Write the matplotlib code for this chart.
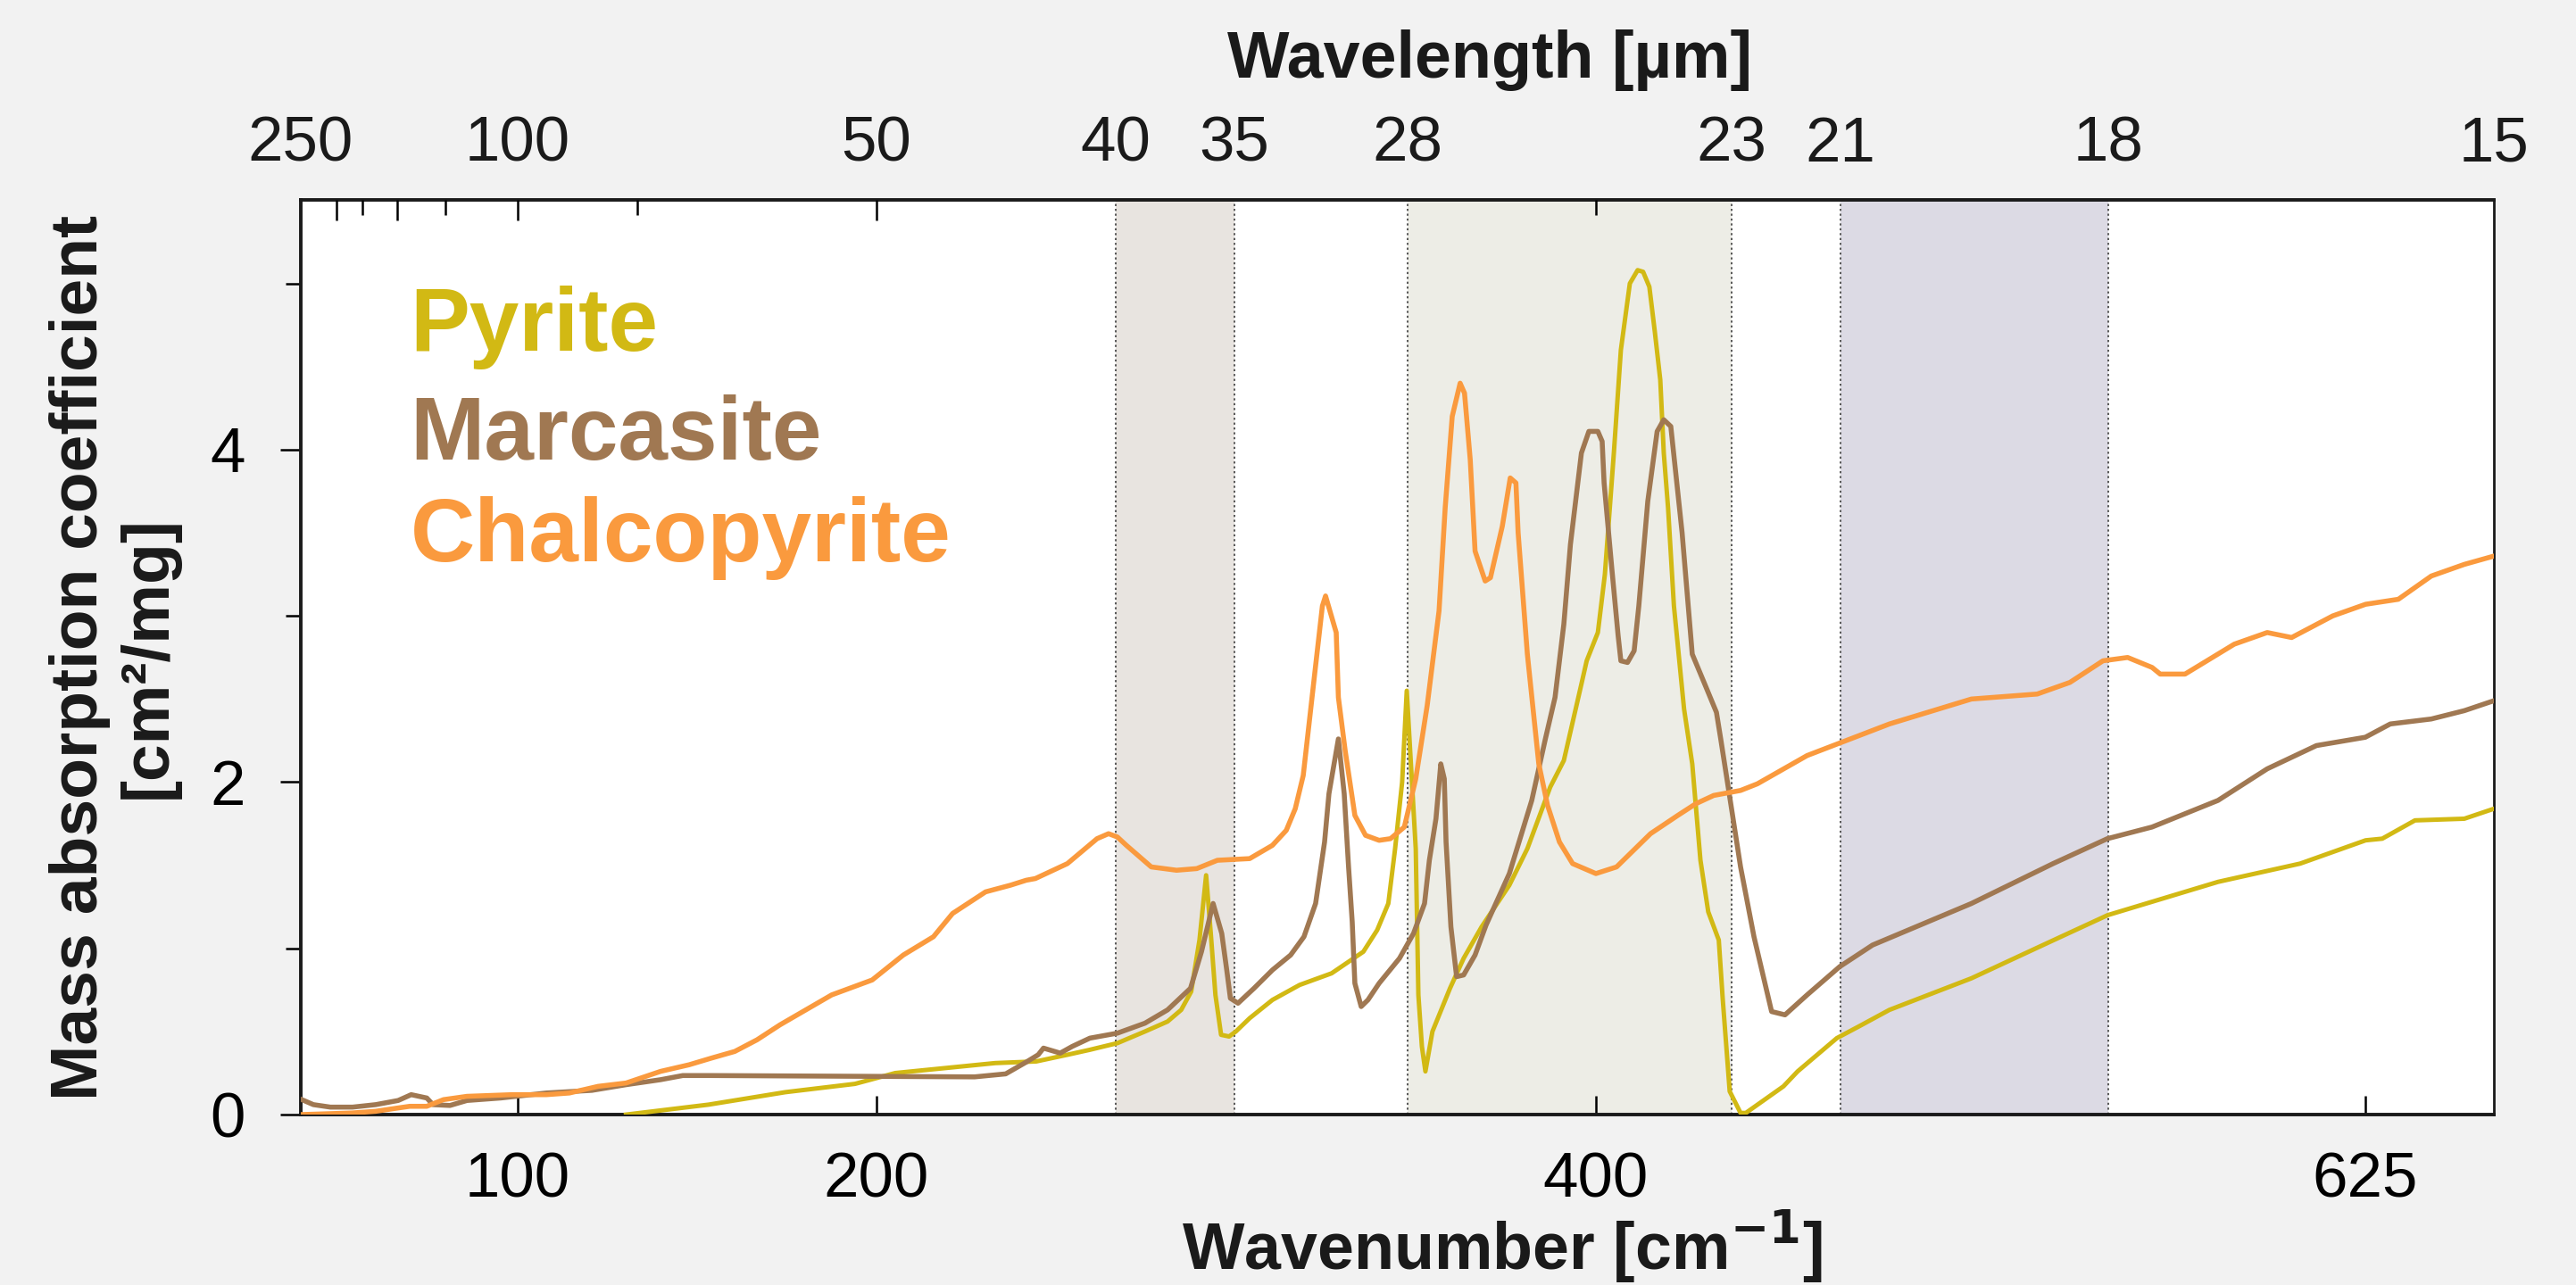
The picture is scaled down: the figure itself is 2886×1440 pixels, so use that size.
import numpy as np
import matplotlib
matplotlib.use("Agg")
import matplotlib.pyplot as plt

plt.rcParams['font.family'] = ['Liberation Sans', 'DejaVu Sans']

# wavenumber [cm-1] / mass absorption coefficient [cm2/mg]
pyrite_nu = [130.2, 153.2, 174.6, 194.0, 203.9, 224.8, 233.4, 239.9, 244.6, 250.5,
             258.8, 265.6, 269.7, 272.7, 275.2, 277.2, 278.6, 280.0, 281.7, 284.1,
             286.3, 292.0, 301.4, 312.6, 325.8, 338.9, 344.6, 349.2, 352.0, 354.9,
             356.8, 357.9, 359.0, 359.6, 360.4, 361.2, 362.8, 366.8, 369.9, 374.0,
             380.3, 384.4, 389.6, 392.7, 396.7, 397.9, 400.5, 402.3, 404.6, 406.4,
             408.7, 410.7, 412.1, 413.7, 415.1, 416.5, 417.4, 418.5, 420.0, 422.6,
             424.7, 426.8, 428.8, 431.5, 432.5, 434.3, 438.2, 440.2, 454.5, 459.9,
             474.8, 481.6, 490.7, 515.0, 539.4, 555.4, 585.2, 607.4, 625.1, 630.5,
             641.1, 657.1, 666.7]
pyrite_k = [0.0, 0.06, 0.135, 0.185, 0.25, 0.31, 0.32, 0.36, 0.39, 0.43,
            0.50, 0.56, 0.63, 0.74, 1.05, 1.44, 1.09, 0.72, 0.48, 0.47,
            0.50, 0.58, 0.69, 0.78, 0.85, 0.98, 1.11, 1.27, 1.60, 2.00,
            2.55, 2.11, 1.60, 0.72, 0.41, 0.26, 0.50, 0.76, 0.94, 1.13,
            1.38, 1.60, 1.97, 2.13, 2.59, 2.73, 2.90, 3.25, 3.98, 4.60,
            5.00, 5.08, 5.07, 4.98, 4.71, 4.42, 3.98, 3.65, 3.06, 2.44,
            2.11, 1.53, 1.22, 1.05, 0.70, 0.14, 0.01, 0.01, 0.17, 0.26,
            0.46, 0.53, 0.63, 0.82, 1.05, 1.20, 1.40, 1.51, 1.65, 1.66,
            1.77, 1.78, 1.84]

marcasite_nu = [40.4, 43.6, 48.3, 54.4, 60.8, 67.0, 70.6, 74.9, 76.6, 81.3,
                86.0, 95.3, 108.0, 120.7, 130.2, 139.8, 146.0, 154.0, 220.5, 227.0,
                231.3, 233.8, 234.9, 238.4, 240.9, 244.6, 250.5, 258.8, 265.6, 272.5,
                275.8, 279.3, 281.9, 283.4, 284.5, 287.2, 293.8, 301.4, 308.9, 314.4,
                319.2, 322.9, 324.7, 328.6, 331.0, 332.8, 334.3, 335.4, 338.0, 340.8,
                345.4, 353.8, 358.5, 361.0, 362.1, 363.6, 364.7, 365.5, 365.9, 367.0,
                368.3, 369.9, 372.5, 375.0, 380.3, 385.4, 388.5, 390.7, 392.7, 394.2,
                396.7, 398.4, 400.5, 401.6, 402.1, 404.1, 405.7, 406.4, 408.1, 409.8,
                411.0, 413.3, 415.7, 417.4, 419.2, 422.1, 424.7, 427.9, 430.9, 432.0,
                438.2, 443.3, 450.0, 455.1, 463.5, 475.9, 485.7, 515.0, 539.2, 555.3,
                567.4, 585.2, 598.5, 611.8, 625.0, 633.1, 646.4, 657.1, 666.7]
marcasite_k = [0.09, 0.06, 0.045, 0.045, 0.06, 0.085, 0.12, 0.10, 0.06, 0.055,
               0.085, 0.10, 0.13, 0.146, 0.18, 0.21, 0.235, 0.235, 0.227, 0.245,
               0.316, 0.36, 0.40, 0.37, 0.41, 0.46, 0.49, 0.55, 0.63, 0.76,
               0.98, 1.27, 1.09, 0.87, 0.70, 0.67, 0.76, 0.87, 0.96, 1.07,
               1.27, 1.64, 1.93, 2.26, 1.93, 1.49, 1.16, 0.79, 0.65, 0.69,
               0.79, 0.94, 1.09, 1.27, 1.53, 1.78, 2.11, 2.02, 1.64, 1.13,
               0.83, 0.84, 0.96, 1.14, 1.45, 1.89, 2.26, 2.51, 2.95, 3.43,
               3.98, 4.11, 4.11, 4.05, 3.80, 3.28, 2.88, 2.73, 2.72, 2.79,
               3.06, 3.69, 4.11, 4.18, 4.14, 3.50, 2.77, 2.59, 2.42, 2.26,
               1.49, 1.07, 0.62, 0.60, 0.72, 0.89, 1.02, 1.27, 1.51, 1.66,
               1.73, 1.89, 2.08, 2.22, 2.27, 2.35, 2.38, 2.43, 2.49]

chalcopyrite_nu = [40.0, 54.4, 60.8, 67.0, 70.2, 74.9, 79.5, 86.0, 98.5, 108.0,
                   114.4, 122.4, 130.2, 139.8, 147.8, 154.0, 160.5, 166.7, 173.1, 187.5,
                   198.8, 205.6, 211.9, 215.9, 222.8, 228.0, 231.3, 233.2, 239.9, 246.1,
                   248.5, 250.5, 253.2, 260.7, 268.3, 274.4, 280.6, 292.0, 301.4, 307.1,
                   310.8, 314.1, 319.2, 322.0, 323.3, 327.7, 328.6, 331.4, 335.4, 339.8,
                   345.4, 350.1, 355.8, 359.0, 361.6, 364.3, 365.7, 367.3, 369.1, 370.1,
                   371.4, 372.5, 374.8, 376.0, 378.7, 380.5, 381.8, 382.3, 384.4, 387.0,
                   389.0, 391.7, 394.7, 400.0, 405.3, 414.0, 421.0, 425.6, 430.2, 438.2,
                   444.6, 463.5, 490.7, 515.0, 534.5, 544.2, 554.0, 560.8, 567.4, 569.6,
                   576.3, 589.6, 598.5, 605.1, 616.2, 625.1, 635.7, 646.4, 657.1, 666.7]
chalcopyrite_k = [0.0, 0.01, 0.02, 0.04, 0.05, 0.05, 0.09, 0.11, 0.12, 0.12,
                  0.13, 0.17, 0.19, 0.26, 0.30, 0.34, 0.38, 0.45, 0.54, 0.72,
                  0.81, 0.96, 1.07, 1.21, 1.34, 1.38, 1.41, 1.42, 1.51, 1.66,
                  1.69, 1.67, 1.62, 1.49, 1.47, 1.48, 1.53, 1.54, 1.62, 1.71,
                  1.84, 2.04, 2.70, 3.06, 3.12, 2.90, 2.51, 2.19, 1.80, 1.68,
                  1.65, 1.66, 1.73, 2.02, 2.46, 3.03, 3.65, 4.20, 4.40, 4.34,
                  3.94, 3.39, 3.21, 3.23, 3.54, 3.83, 3.80, 3.50, 2.77, 2.11,
                  1.86, 1.64, 1.51, 1.45, 1.49, 1.69, 1.80, 1.87, 1.92, 1.95,
                  1.99, 2.16, 2.35, 2.50, 2.53, 2.60, 2.73, 2.75, 2.69, 2.65,
                  2.65, 2.83, 2.90, 2.87, 3.00, 3.07, 3.10, 3.24, 3.31, 3.36]

names = ['Pyrite', 'Marcasite', 'Chalcopyrite']
colors = ['#D2B914', '#A07852', '#FA9A3E']

# wavelength bands [um] and top axis labels
bands = [(40, 35), (28, 23), (21, 18)]
band_colors = ['#E8E4E0', '#EDEDE6', '#DCDAE4']
top_labels = [250, 100, 50, 40, 35, 28, 23, 21, 18, 15]
top_major = [200, 150, 100, 50]
top_minor = [175, 125, 75, 25]

# the figure's wavenumber axis is not quite linear: piecewise scale
nu_knots = np.array([40, 100, 200, 250, 1e4 / 35, 1e4 / 28, 400, 1e4 / 23,
                     1e4 / 21, 1e4 / 18, 625, 1e4 / 15])
pos_knots = np.array([336.5, 580, 982, 1250, 1383, 1577, 1788, 1940,
                      2062, 2362, 2650, 2794])


def piecewise(x, xs, ys):
    x = np.asarray(x, dtype=float)
    y = np.interp(x, xs, ys)
    s0 = (ys[1] - ys[0]) / (xs[1] - xs[0])
    s1 = (ys[-1] - ys[-2]) / (xs[-1] - xs[-2])
    y = np.where(x < xs[0], ys[0] + (x - xs[0]) * s0, y)
    y = np.where(x > xs[-1], ys[-1] + (x - xs[-1]) * s1, y)
    return y


def fwd(x):
    return piecewise(x, nu_knots, pos_knots)


def inv(x):
    return piecewise(x, pos_knots, nu_knots)


fig = plt.figure(figsize=(14.43, 7.2), dpi=200, facecolor='#F2F2F2')
ax = fig.add_axes([0.1166, 0.1326, 0.8515, 0.7115])
ax.set_xscale('function', functions=(fwd, inv))

for (l1, l2), c in zip(bands, band_colors):
    ax.axvspan(1e4 / l1, 1e4 / l2, color=c, lw=0, zorder=0)
    for l in (l1, l2):
        ax.axvline(1e4 / l, color='#555555', lw=0.7, ls=(0, (1.2, 1.6)), zorder=1)

data = [(pyrite_nu, pyrite_k), (marcasite_nu, marcasite_k),
        (chalcopyrite_nu, chalcopyrite_k)]
for (nu, k), c, lw in zip(data, colors, [1.8, 2.0, 2.0]):
    ax.plot(nu, k, color=c, lw=lw, zorder=3)

ax.set_xlim(40, 1e4 / 15)
ax.set_ylim(0, 5.5)

# bottom axis
ax.set_xticks([100, 200, 400, 625])
ax.set_xticklabels(['100', '200', '400', '625'])
ax.xaxis.set_minor_locator(matplotlib.ticker.NullLocator())
ax.tick_params(axis='x', which='major', direction='in', length=7.5, width=0.9,
               labelsize=25.5, pad=15, top=False)
ax.set_yticks([0, 2, 4])
ax.set_yticks([1, 3, 5], minor=True)
ax.tick_params(axis='y', which='major', direction='out', length=8.3, width=0.9,
               labelsize=25.5, pad=14)
ax.tick_params(axis='y', which='minor', direction='out', length=6, width=0.9)
for sp in ax.spines.values():
    sp.set_linewidth(1.4)
    sp.set_color('#1a1a1a')
ax.spines['right'].set_linewidth(1.0)

# top axis: tick marks in wavelength
ax2 = ax.twiny()
ax2.set_xscale('function', functions=(fwd, inv))
ax2.set_xlim(ax.get_xlim())
ax2.set_xticks(1e4 / np.array(top_major))
ax2.set_xticks(1e4 / np.array(top_minor), minor=True)
ax2.tick_params(axis='x', which='major', direction='in', length=8.3, width=0.9,
                labeltop=False, labelbottom=False)
ax2.tick_params(axis='x', which='minor', direction='in', length=6, width=0.9,
                labeltop=False, labelbottom=False)
for sp in ax2.spines.values():
    sp.set_visible(False)

for lam in top_labels:
    ax.text(1e4 / lam, 1.0425, str(lam), transform=ax.get_xaxis_transform(),
            ha='center', va='baseline', fontsize=25.5, color='#1a1a1a')

# legend-like labels
for i, (n, c) in enumerate(zip(names, colors)):
    ax.text(0.050, [0.836, 0.716, 0.605][i], n, transform=ax.transAxes,
            color=c, fontsize=36, fontweight='bold', ha='left', va='baseline')

fig.text(0.5783, 0.9396, 'Wavelength [µm]', ha='center', va='baseline',
         fontsize=26.5, fontweight='bold', color='#1a1a1a')
fig.text(0.583, 0.0118, 'Wavenumber [cm$^{\\mathbf{-1}}$]', ha='center', va='baseline',
         fontsize=26.5, fontweight='bold', color='#1a1a1a')
fig.text(0.0443, 0.4882, 'Mass absorption coefficient\n[cm²/mg]', rotation=90,
         ha='center', va='center', fontsize=27, fontweight='bold',
         linespacing=1.15, color='#1a1a1a')

fig.savefig('out.png', dpi=200, facecolor=fig.get_facecolor())
